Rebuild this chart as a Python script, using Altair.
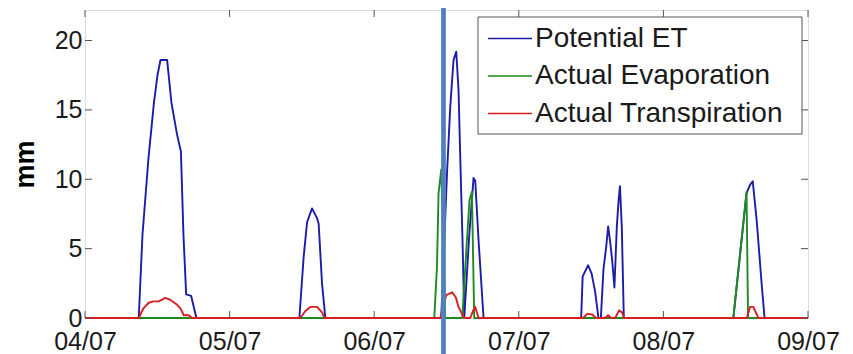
import altair as alt
import pandas as pd

# ---------------- data (hours after 04/07 00:00, value in mm) ----------------
series_names = ["Potential ET", "Actual Evaporation", "Actual Transpiration"]
series_colors = ["#1c1caa", "#1f8a1f", "#d81e1e"]

pet_h = [0, 8.92, 9.54, 10.53, 11.44, 12.03, 12.53, 13.63, 14.35, 15.29, 15.92, 16.34, 16.79, 17.61, 18.49,
         35.58, 36.29, 36.86, 37.68, 38.51, 38.78, 39.34, 39.89,
         59.13, 60.08, 60.62, 61.17, 61.62, 62.0, 62.28, 62.66, 62.95, 63.78, 64.49, 64.77, 65.32, 66.15,
         82.35, 82.6, 83.51, 84.09, 84.67, 85.22, 85.62, 86.05, 86.5, 86.83, 87.16, 87.49, 87.87, 88.27, 88.57, 88.79, 89.1, 89.43,
         107.61, 109.8, 110.38, 110.83, 111.49, 112.32, 112.79, 120]
pet_v = [0, 0, 6.0, 11.5, 15.5, 17.5, 18.6, 18.6, 15.5, 13.2, 12, 6, 1.7, 1.6, 0,
         0, 4.4, 6.9, 7.9, 7.2, 6.8, 2.5, 0,
         0, 10.4, 15.2, 18.6, 19.2, 16.4, 11.6, 5.6, 0, 6, 10.1, 9.9, 5.6, 0,
         0, 3.0, 3.8, 3.2, 1.9, 0, 0, 3.5, 5.1, 6.6, 5.5, 4.2, 2.2, 6.6, 8.5, 9.5, 6.5, 0,
         0, 9.0, 9.6, 9.85, 7.0, 2.4, 0, 0]

ev_h = [0, 57.97, 58.42, 58.68, 59.13, 59.79, 62.61, 63.39, 63.82, 64.22, 64.6, 107.61, 109.8, 110.05, 120]
ev_v = [0, 0, 3.7, 9.0, 10.7, 0, 0, 5.6, 8.5, 9.1, 0, 0, 9.1, 0, 0]

tr_h = [0, 8.92, 9.7, 10.58, 11.36, 12.24, 13.35, 14.18, 15.29, 15.84, 16.39, 17.22, 17.78,
        35.74, 36.57, 37.4, 38.51, 39.34, 39.77,
        58.96, 59.96, 60.95, 61.54, 62.0, 62.56, 62.95, 63.94, 64.49, 64.77, 65.32,
        82.68, 83.35, 84.18, 84.84, 86.33, 86.83, 87.33, 87.99, 88.65, 89.15, 89.48,
        109.84, 110.38, 110.93, 111.76, 120]
tr_v = [0, 0, 0.7, 1.1, 1.2, 1.2, 1.45, 1.3, 0.95, 0.7, 0.2, 0.2, 0,
        0, 0.5, 0.8, 0.8, 0.4, 0,
        0, 1.65, 1.85, 1.5, 0.8, 0.3, 0, 0, 0.6, 0.8, 0,
        0, 0.3, 0.25, 0, 0, 0.2, 0, 0, 0.55, 0.4, 0,
        0, 0.8, 0.8, 0, 0]

start_day = "2007-07-04"
day_ticks = ["2007-07-04", "2007-07-05", "2007-07-06", "2007-07-07", "2007-07-08", "2007-07-09"]
y_ticks = [0, 5, 10, 15, 20]
marker_time = "2007-07-06T11:30:00"

# ---------------- build table ----------------
def to_time(hours):
    return [(pd.Timestamp(start_day) + pd.Timedelta(hours=h)).strftime("%Y-%m-%dT%H:%M:%S") for h in hours]

frames = []
for name, hs, vs in zip(series_names, [pet_h, ev_h, tr_h], [pet_v, ev_v, tr_v]):
    frames.append(pd.DataFrame({"time": to_time(hs), "value": vs, "series": name}))
df = pd.concat(frames, ignore_index=True)

W, H = 723, 308
FONT = "Liberation Sans"
TXT = "#1a1a1a"
BOX = "#555555"

x_scale = alt.Scale(domain=[alt.DateTime(year=2007, month=7, date=4), alt.DateTime(year=2007, month=7, date=9)])
y_scale = alt.Scale(domain=[0, 22.2], nice=False)
x_axis = alt.Axis(values=[alt.DateTime(year=2007, month=7, date=d) for d in range(4, 10)],
                  format="%d/%m", title=None, grid=False, ticks=False, tickSize=0, domain=False,
                  labelPadding=11, labelFontSize=25, labelFont=FONT, labelColor=TXT, labelFlush=False)
y_axis = alt.Axis(values=y_ticks, title="mm", grid=False, ticks=False, tickSize=0, domain=False,
                  labelPadding=3, labelFontSize=25, labelFont=FONT, labelColor=TXT,
                  titleFontSize=27, titleFont=FONT, titleFontWeight="bold", titleColor="#000",
                  titleX=-60, titleY=H / 2, titleAngle=270, titleAlign="center", titleBaseline="middle")

X = alt.X("time:T", scale=x_scale, axis=x_axis)
Y = alt.Y("value:Q", scale=y_scale, axis=y_axis)
color = alt.Color("series:N", scale=alt.Scale(domain=series_names, range=series_colors), legend=None)

lines = [
    alt.Chart(df).transform_filter(alt.datum.series == name)
    .mark_line(strokeWidth=1.9, strokeJoin="round")
    .encode(x=X, y=Y, color=color)
    for name in series_names
]

# inward ticks on all four sides (MATLAB box style)
ytdf = pd.DataFrame({"value": y_ticks})
xtdf = pd.DataFrame({"time": day_ticks})
TL = 7
ticks = [
    alt.Chart(ytdf).mark_rule(color=BOX, strokeWidth=1).encode(y=Y, x=alt.value(0), x2=alt.value(TL)),
    alt.Chart(ytdf).mark_rule(color=BOX, strokeWidth=1).encode(y=Y, x=alt.value(W - TL), x2=alt.value(W)),
    alt.Chart(xtdf).mark_rule(color=BOX, strokeWidth=1).encode(x=X, y=alt.value(H - TL), y2=alt.value(H)),
    alt.Chart(xtdf).mark_rule(color=BOX, strokeWidth=1).encode(x=X, y=alt.value(0), y2=alt.value(TL)),
]

# legend box (top-right, inside the axes)
one = pd.DataFrame({"k": [0]})
LX0, LX1, LY0, LY1 = 393, 717, 7, 124
legend = [alt.Chart(one).mark_rect(fill="white", stroke=BOX, strokeWidth=1).encode(
    x=alt.value(LX0), x2=alt.value(LX1), y=alt.value(LY0), y2=alt.value(LY1))]
for i, (name, col) in enumerate(zip(series_names, series_colors)):
    ry = 28.5 + i * 37.5
    legend.append(alt.Chart(one).mark_rule(color=col, strokeWidth=1.6).encode(
        x=alt.value(403), x2=alt.value(447), y=alt.value(ry)))
    legend.append(alt.Chart(one).mark_text(align="left", baseline="middle", font=FONT, fontSize=28,
                                           color=TXT).encode(
        x=alt.value(450), y=alt.value(ry), text=alt.value(name)))

marker = alt.Chart(pd.DataFrame({"time": [marker_time]})).mark_rule(
    color="#4f81bd", strokeWidth=4.7).encode(x=X, y=alt.value(-2), y2=alt.value(H + 45))

chart = alt.layer(*lines, *ticks, *legend, marker).properties(
    width=W, height=H,
    autosize=alt.AutoSizeParams(type="none"),
    padding={"left": 77, "top": 2, "right": 37, "bottom": 45},
).configure_view(stroke=BOX, strokeWidth=1).configure(background="white")

chart.save("out.html", embed_options={"renderer": "svg", "actions": False})
